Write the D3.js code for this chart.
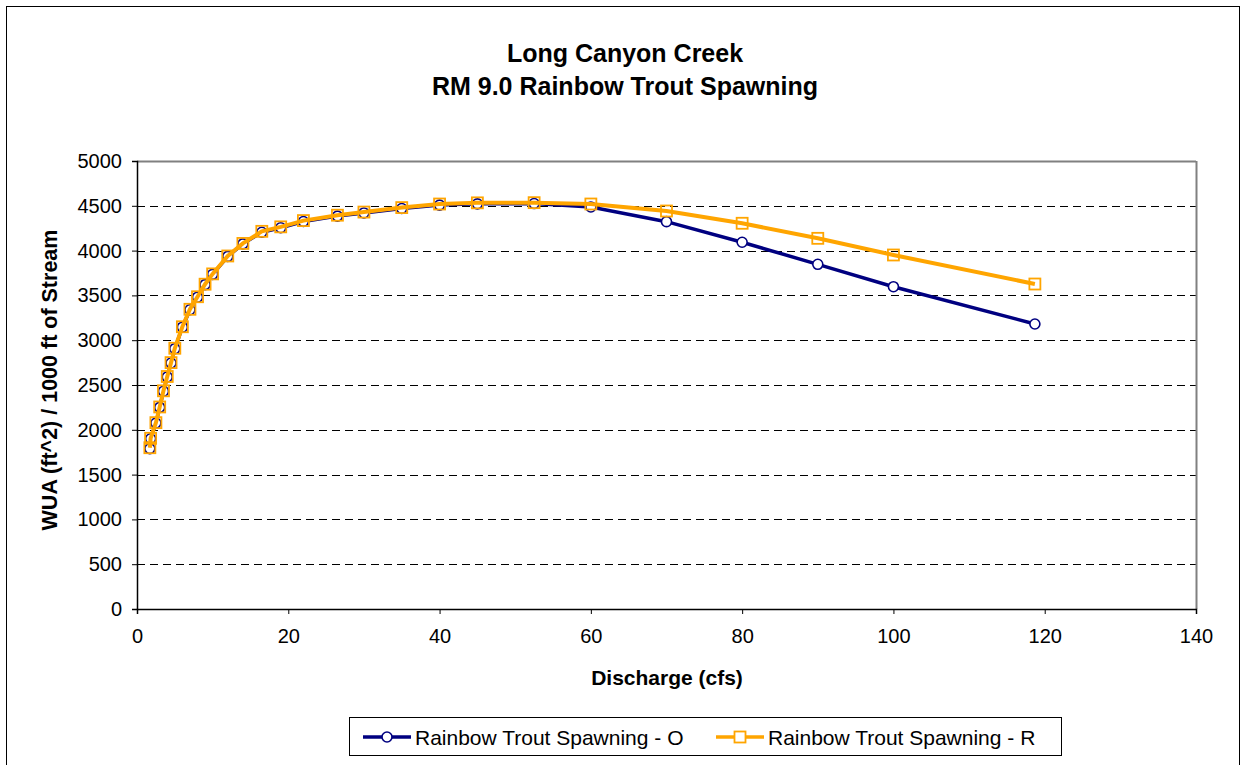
<!DOCTYPE html>
<html>
<head>
<meta charset="utf-8">
<script src="https://cdn.jsdelivr.net/npm/d3@7/dist/d3.min.js"></script>
<style>
  body { margin: 0; background: #fff; }
  text { font-family: "Liberation Sans", Arial, sans-serif; }
</style>
</head>
<body>
<svg id="chart" width="1246" height="765"></svg>
<script>
const discharge = [1.7, 1.8, 2.5, 3, 3.5, 4, 4.5, 5, 6, 7, 8, 9, 10, 12, 14, 16.5, 19, 22, 26.5, 30, 35, 40, 45, 52.5, 60, 70, 80, 90, 100, 118.7];
const wuaO = [1790, 1900, 2075, 2250, 2430, 2590, 2745, 2905, 3145, 3340, 3480, 3620, 3735, 3935, 4075, 4205, 4255, 4325, 4385, 4420, 4470, 4508, 4522, 4525, 4487, 4323, 4093, 3847, 3597, 3181];
const wuaR = [1800, 1905, 2080, 2255, 2435, 2595, 2750, 2910, 3150, 3345, 3485, 3625, 3740, 3940, 4080, 4215, 4265, 4335, 4395, 4430, 4480, 4520, 4533, 4535, 4520, 4442, 4305, 4137, 3951, 3627];
const xTicks = [0, 20, 40, 60, 80, 100, 120, 140];
const yTicks = [0, 500, 1000, 1500, 2000, 2500, 3000, 3500, 4000, 4500, 5000];
const seriesNames = ["Rainbow Trout Spawning - O", "Rainbow Trout Spawning - R"];
const titleLines = ["Long Canyon Creek", "RM 9.0 Rainbow Trout Spawning"];

const svg = d3.select("#chart");
const L = 137, R = 1196, T = 161, B = 609;
const x = d3.scaleLinear().domain([0, 140]).range([L, R]);
const y = d3.scaleLinear().domain([0, 5000]).range([B, T]);

// outer border
svg.append("rect").attr("x", 6.5).attr("y", 6.5).attr("width", 1233).attr("height", 780)
  .attr("fill", "none").attr("stroke", "#000").attr("stroke-width", 1);

// titles
svg.selectAll("text.title").data(titleLines).enter().append("text")
  .attr("x", 625).attr("y", (d, i) => 62 + i * 33)
  .attr("text-anchor", "middle").attr("font-weight", "bold").attr("font-size", 25)
  .text(d => d);

// grid lines
svg.append("g").selectAll("line").data(yTicks.filter(v => v > 0 && v < 5000)).enter().append("line")
  .attr("x1", L).attr("x2", R).attr("y1", d => Math.round(y(d)) + 0.5).attr("y2", d => Math.round(y(d)) + 0.5)
  .attr("stroke", "#000").attr("stroke-width", 1).attr("stroke-dasharray", "8,5");

// plot border top/right
svg.append("line").attr("x1", L).attr("x2", R).attr("y1", T + 0.5).attr("y2", T + 0.5).attr("stroke", "#808080").attr("stroke-width", 2);
svg.append("line").attr("x1", R + 0.5).attr("x2", R + 0.5).attr("y1", T).attr("y2", B).attr("stroke", "#808080").attr("stroke-width", 2);

// axes
const yAxis = d3.axisLeft(y).tickValues(yTicks).tickSize(5).tickPadding(10).tickFormat(d3.format("d"));
const gy = svg.append("g").attr("transform", `translate(${L},0)`).call(yAxis);
const xAxis = d3.axisBottom(x).tickValues(xTicks).tickSize(5).tickPadding(15).tickFormat(d3.format("d"));
const gx = svg.append("g").attr("transform", `translate(0,${B})`).call(xAxis);
[gx, gy].forEach(g => {
  g.selectAll("text").attr("font-size", 20).attr("fill", "#000").attr("font-family", "Liberation Sans, Arial, sans-serif");
  g.select(".domain").attr("stroke", "#000").attr("stroke-width", 1.5);
  g.selectAll(".tick line").attr("stroke", "#000");
});

// axis titles
svg.append("text").attr("x", 667).attr("y", 685).attr("text-anchor", "middle")
  .attr("font-weight", "bold").attr("font-size", 21).text("Discharge (cfs)");
svg.append("text").attr("transform", "translate(57,380) rotate(-90)").attr("text-anchor", "middle")
  .attr("font-weight", "bold").attr("font-size", 21.5).text("WUA (ft^2) / 1000 ft of Stream");

const colors = ["#000080", "#FFA500"];
const line = d3.line().x(d => x(d[0])).y(d => y(d[1]));
const dataO = discharge.map((d, i) => [d, wuaO[i]]);
const dataR = discharge.map((d, i) => [d, wuaR[i]]);

svg.append("path").datum(dataO).attr("d", line).attr("fill", "none").attr("stroke", colors[0]).attr("stroke-width", 3.5);
svg.append("g").selectAll("circle").data(dataO).enter().append("circle")
  .attr("cx", d => x(d[0])).attr("cy", d => y(d[1])).attr("r", 5)
  .attr("fill", "#fff").attr("stroke", colors[0]).attr("stroke-width", 1.6);

svg.append("path").datum(dataR).attr("d", line).attr("fill", "none").attr("stroke", colors[1]).attr("stroke-width", 4);
svg.append("g").selectAll("rect").data(dataR).enter().append("rect")
  .attr("x", d => x(d[0]) - 5.5).attr("y", d => y(d[1]) - 5.5).attr("width", 11).attr("height", 11)
  .attr("fill", "none").attr("stroke", colors[1]).attr("stroke-width", 1.8);

// legend
const lg = svg.append("g");
lg.append("rect").attr("x", 349.5).attr("y", 717.5).attr("width", 712).attr("height", 38)
  .attr("fill", "#fff").attr("stroke", "#000").attr("stroke-width", 1);
const legX = [363, 716];
seriesNames.forEach((name, i) => {
  const g = lg.append("g");
  g.append("line").attr("x1", legX[i]).attr("x2", legX[i] + 48).attr("y1", 737).attr("y2", 737)
    .attr("stroke", colors[i]).attr("stroke-width", 3.5);
  if (i === 0) {
    g.append("circle").attr("cx", legX[i] + 24).attr("cy", 737).attr("r", 5)
      .attr("fill", "#fff").attr("stroke", colors[i]).attr("stroke-width", 1.6);
  } else {
    g.append("rect").attr("x", legX[i] + 18.5).attr("y", 731.5).attr("width", 11).attr("height", 11)
      .attr("fill", "#fff").attr("stroke", colors[i]).attr("stroke-width", 1.8);
  }
  g.append("text").attr("x", legX[i] + 52).attr("y", 744.5).attr("font-size", 21).text(name);
});
</script>
</body>
</html>
